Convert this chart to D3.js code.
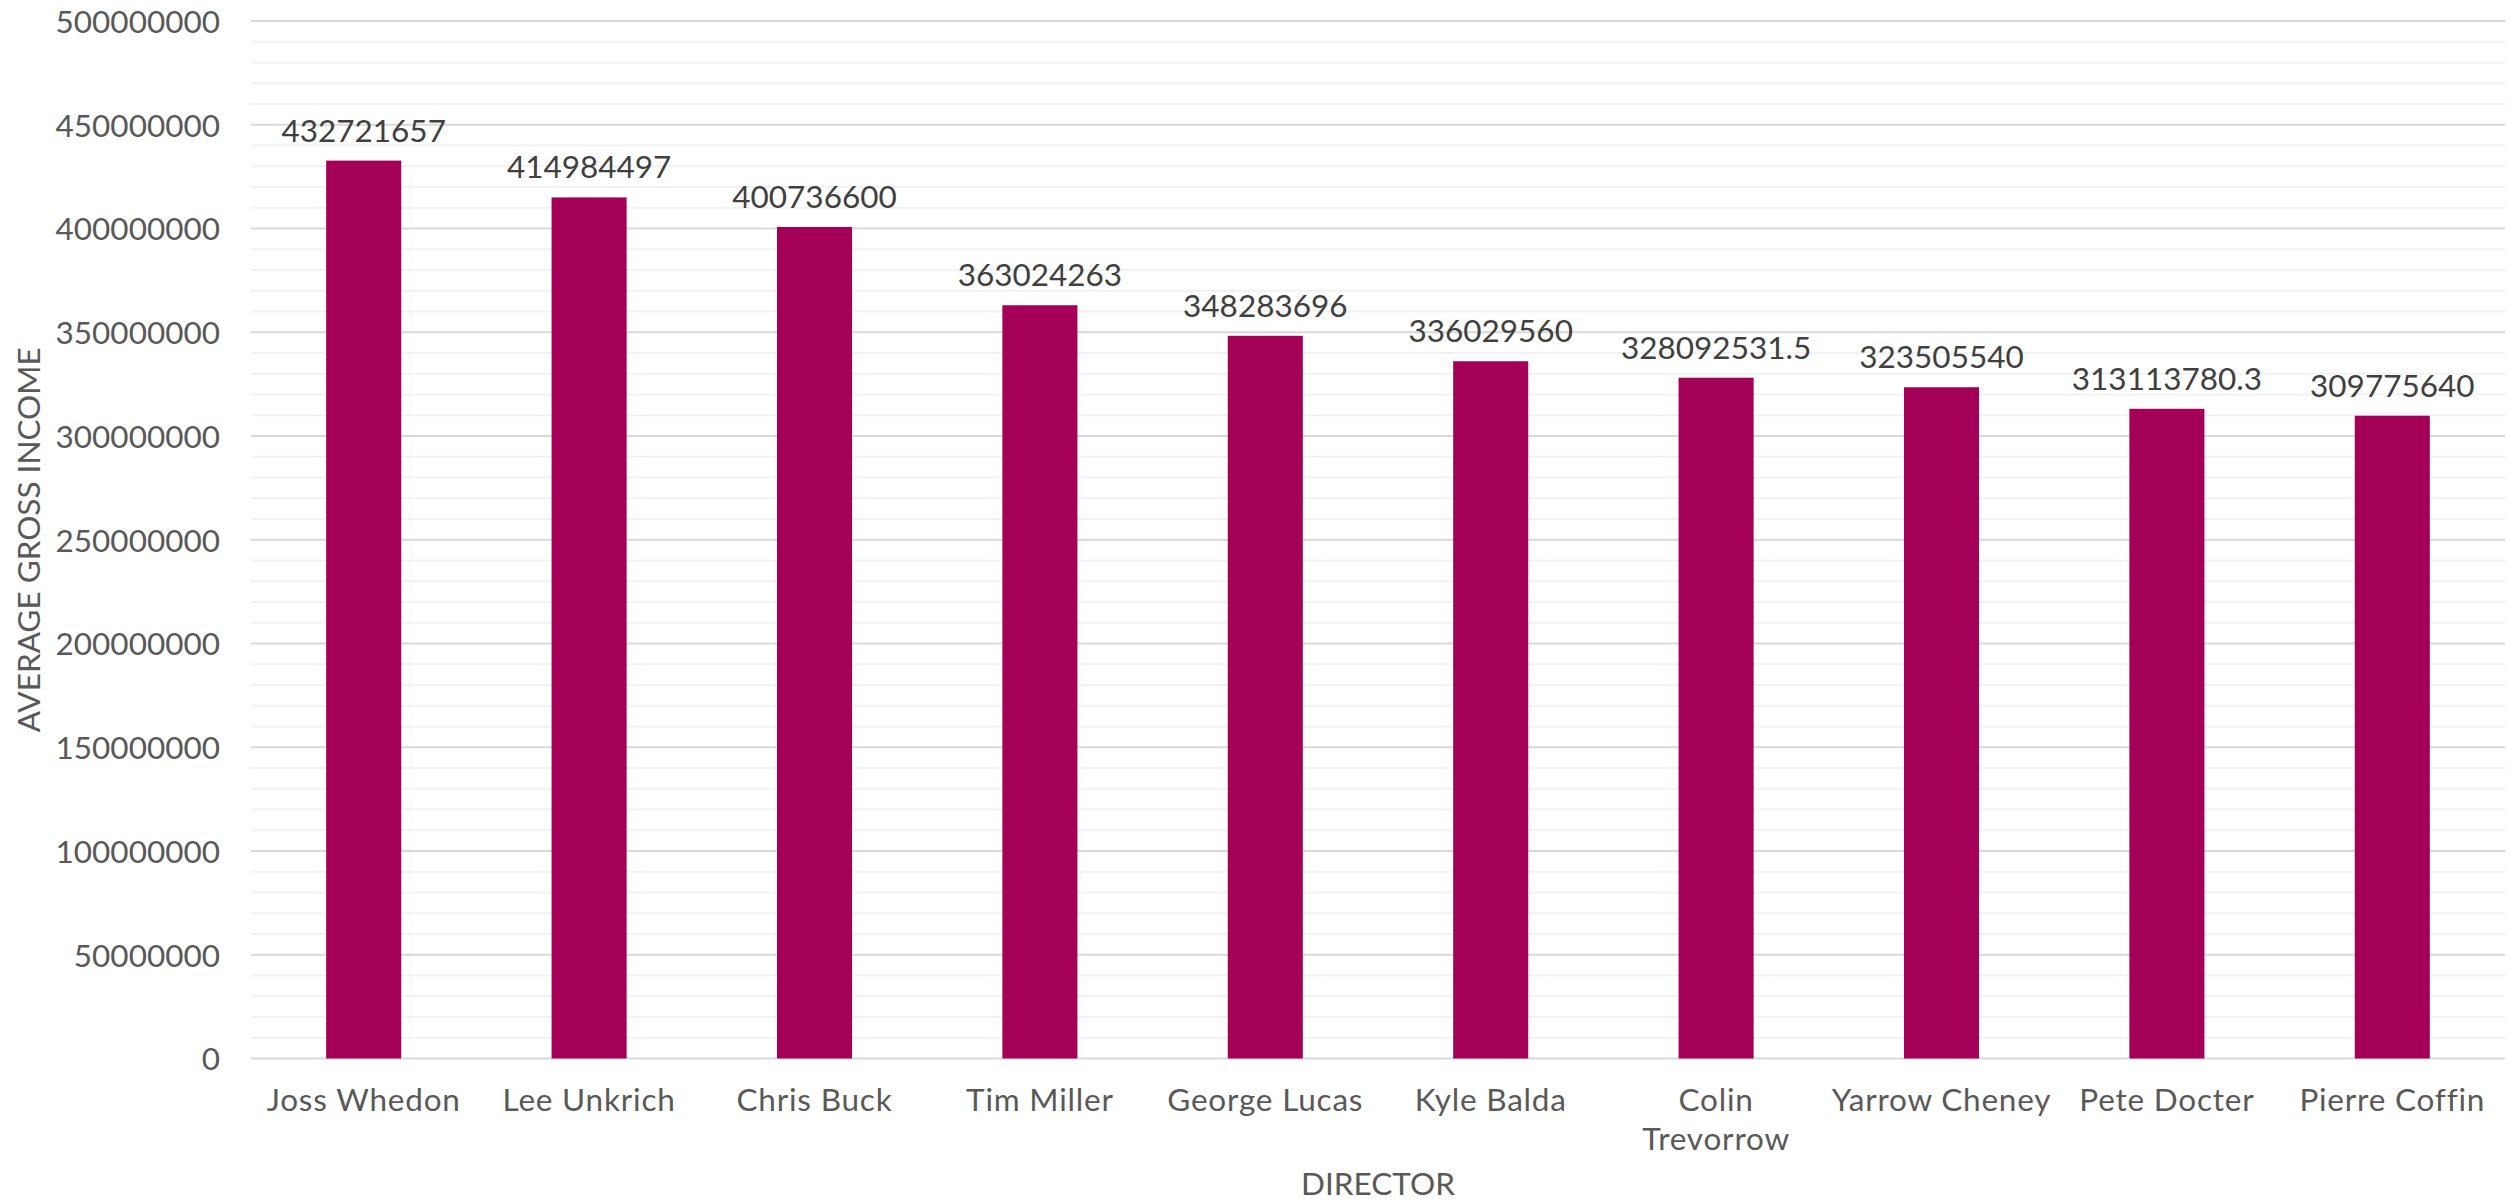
<!DOCTYPE html>
<html>
<head>
<meta charset="utf-8">
<script src="https://cdn.jsdelivr.net/npm/d3@7"></script>
<style>
  html, body { margin: 0; padding: 0; background: #ffffff; }
  svg { display: block; font-family: Lato, "Open Sans", sans-serif; }
</style>
</head>
<body>
<svg id="chart" width="2509" height="1203"></svg>
<script>
const directors = ["Joss Whedon", "Lee Unkrich", "Chris Buck", "Tim Miller", "George Lucas",
  "Kyle Balda", "Colin Trevorrow", "Yarrow Cheney", "Pete Docter", "Pierre Coffin"];
const avgGross = [432721657, 414984497, 400736600, 363024263, 348283696,
  336029560, 328092531.5, 323505540, 313113780.3, 309775640];
const valueLabels = ["432721657", "414984497", "400736600", "363024263", "348283696",
  "336029560", "328092531.5", "323505540", "313113780.3", "309775640"];
const yTicks = [0, 50000000, 100000000, 150000000, 200000000, 250000000,
  300000000, 350000000, 400000000, 450000000, 500000000];
const yMinorTicks = d3.range(0, 500000001, 10000000);
const xTitle = "DIRECTOR";
const yTitle = "AVERAGE GROSS INCOME";

const svg = d3.select("#chart");
const plotLeft = 251, plotRight = 2505, plotTop = 21, plotBottom = 1058.5;

const x = d3.scaleBand().domain(directors).range([plotLeft, plotRight]).paddingInner(0.667).paddingOuter(0.3335);
const y = d3.scaleLinear().domain([0, 500000000]).range([plotBottom, plotTop]);

// minor gridlines
svg.append("g").selectAll("line").data(yMinorTicks.filter(v => v % 50000000 !== 0)).join("line")
  .attr("x1", plotLeft).attr("x2", plotRight)
  .attr("y1", d => y(d)).attr("y2", d => y(d))
  .attr("stroke", "#f2f2f2").attr("stroke-width", 2);

// major gridlines
svg.append("g").selectAll("line").data(yTicks).join("line")
  .attr("x1", plotLeft).attr("x2", plotRight)
  .attr("y1", d => y(d)).attr("y2", d => y(d))
  .attr("stroke", "#d9d9d9").attr("stroke-width", 2);

// y axis labels
const yAxis = d3.axisLeft(y).tickValues(yTicks).tickFormat(d => String(d)).tickSize(0).tickPadding(0);
const gy = svg.append("g").attr("transform", `translate(220,0)`).call(yAxis);
gy.select(".domain").remove();
gy.selectAll("text").attr("font-size", 31.5).attr("fill", "#595959")
  .attr("font-family", "Lato, sans-serif").attr("dy", "0.36em");

// bars
svg.append("g").selectAll("rect").data(directors).join("rect")
  .attr("x", d => x(d))
  .attr("width", x.bandwidth())
  .attr("y", (d, i) => y(avgGross[i]))
  .attr("height", (d, i) => plotBottom - y(avgGross[i]))
  .attr("fill", "#a50058");

// value labels
svg.append("g").selectAll("text").data(directors).join("text")
  .attr("x", d => x(d) + x.bandwidth() / 2)
  .attr("y", (d, i) => y(avgGross[i]) - 19)
  .attr("text-anchor", "middle")
  .attr("font-size", 31.5).attr("fill", "#404040")
  .text((d, i) => valueLabels[i]);

// x axis
const xAxis = d3.axisBottom(x).tickSize(0).tickPadding(0);
const gx = svg.append("g").attr("transform", `translate(0,${plotBottom})`).call(xAxis);
gx.select(".domain").remove();
gx.selectAll("text").remove();
gx.selectAll(".tick").each(function(d) {
  const t = d3.select(this).append("text")
    .attr("text-anchor", "middle").attr("font-size", 31.5).attr("fill", "#595959")
    .attr("font-family", "Lato, sans-serif").attr("letter-spacing", 0.8);
  const lines = d === "Colin Trevorrow" ? ["Colin", "Trevorrow"] : [d];
  lines.forEach((ln, i) => t.append("tspan").attr("x", 0).attr("y", 52 + i * 39).text(ln));
});

// axis titles
svg.append("text").attr("x", (plotLeft + plotRight) / 2).attr("y", 1195)
  .attr("text-anchor", "middle").attr("font-size", 31.5).attr("fill", "#595959")
  .text(xTitle);
svg.append("text").attr("transform", `translate(40,${(plotTop + plotBottom) / 2}) rotate(-90)`)
  .attr("text-anchor", "middle").attr("font-size", 31.5).attr("fill", "#595959")
  .text(yTitle);
</script>
</body>
</html>
